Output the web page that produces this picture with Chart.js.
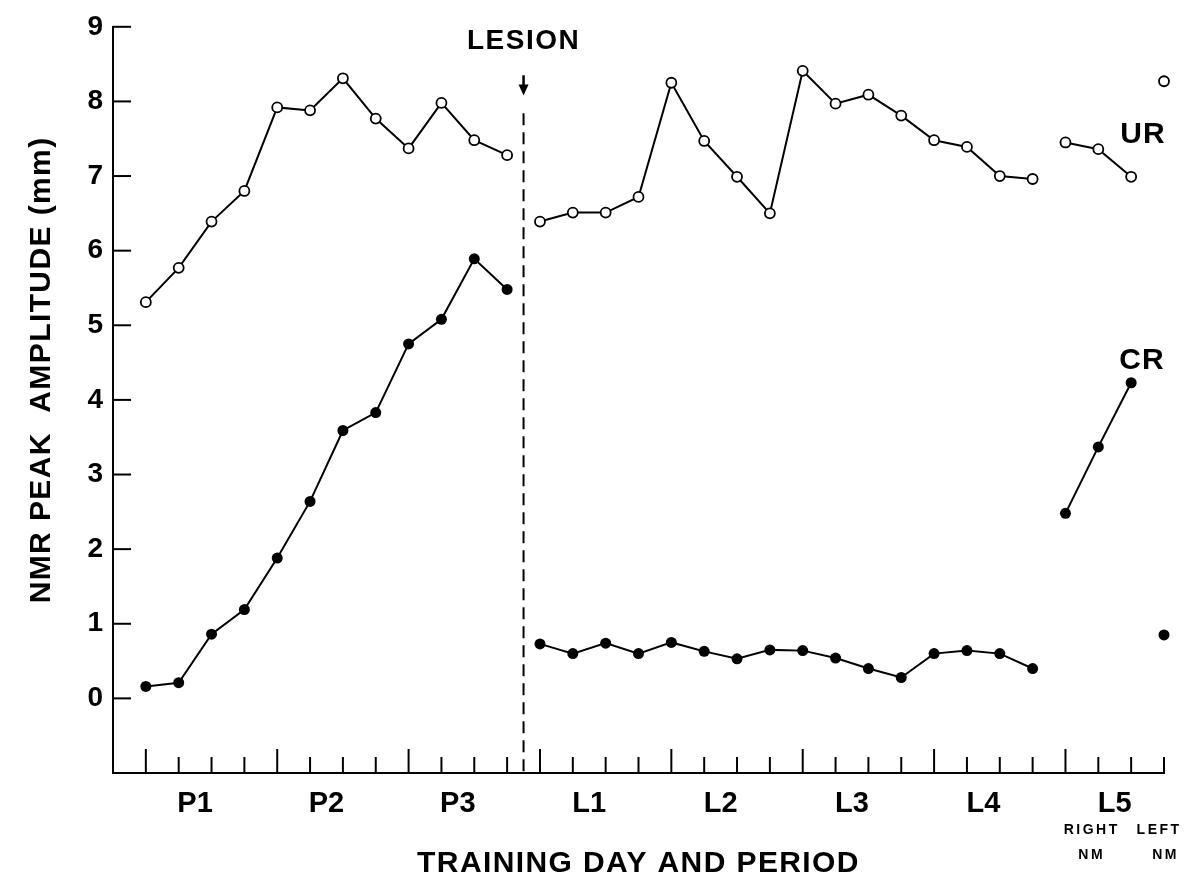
<!DOCTYPE html>
<html>
<head>
<meta charset="utf-8">
<script src="https://cdn.jsdelivr.net/npm/chart.js@4.4.0/dist/chart.umd.min.js"></script>
<style>
  html, body { margin: 0; padding: 0; background: #fff; }
</style>
</head>
<body>
<canvas id="nmr" width="1184" height="879"></canvas>
<script>
// values (NMR peak amplitude, mm)
const urPre = [5.31, 5.77, 6.39, 6.8, 7.92, 7.88, 8.31, 7.77, 7.37, 7.98, 7.48, 7.28];
const crPre = [0.16, 0.21, 0.86, 1.19, 1.88, 2.64, 3.59, 3.83, 4.75, 5.08, 5.89, 5.48];
const urLesion = [6.39, 6.51, 6.51, 6.72, 8.25, 7.47, 6.99, 6.5, 8.41, 7.97, 8.09, 7.81, 7.48, 7.39, 7.0, 6.96];
const crLesion = [0.73, 0.6, 0.74, 0.6, 0.75, 0.63, 0.53, 0.65, 0.64, 0.54, 0.4, 0.28, 0.6, 0.64, 0.6, 0.4];
const urRightNM = [7.45, 7.36, 6.99];
const crRightNM = [2.48, 3.37, 4.23];
const urLeftNM = [8.27];
const crLeftNM = [0.85];

// session index where each block starts
const preStart = 0, lesionStart = 12, rightStart = 28, leftStart = 31;

const periodLabels = ["P1", "P2", "P3", "L1", "L2", "L3", "L4", "L5"];
const periodCenters = [1.5, 5.5, 9.5, 13.5, 17.5, 21.5, 25.5, 29.5];
const dayStarts = [0, 4, 8, 12, 16, 20, 24, 28];
const sessionCount = 32;
const yTicks = [0, 1, 2, 3, 4, 5, 6, 7, 8, 9];

const FONT = "'Liberation Sans', Arial, Helvetica, sans-serif";

const toPoints = (vals, start) => vals.map((v, i) => ({ x: start + i, y: v }));

const urStyle = {
  borderColor: "#000",
  borderWidth: 2,
  pointRadius: 5,
  pointBorderWidth: 1.8,
  pointBackgroundColor: "#fff",
  pointBorderColor: "#000",
  tension: 0,
  clip: false,
};
const crStyle = {
  borderColor: "#000",
  borderWidth: 2,
  pointRadius: 5.5,
  pointBorderWidth: 0,
  pointBackgroundColor: "#000",
  pointBorderColor: "#000",
  tension: 0,
  clip: false,
};

// ve cac chi tiet phu: vach chia, duong LESION, nhan chu
const decorPlugin = {
  id: "decor",
  afterDraw(chart) {
    const { ctx, chartArea } = chart;
    const xs = chart.scales.x;
    const ys = chart.scales.y;
    ctx.save();
    ctx.strokeStyle = "#000";
    ctx.fillStyle = "#000";
    ctx.lineWidth = 2;

    // y ticks pointing inward
    yTicks.forEach((v) => {
      const py = ys.getPixelForValue(v);
      ctx.beginPath();
      ctx.moveTo(chartArea.left, py);
      ctx.lineTo(chartArea.left + 18, py);
      ctx.stroke();
    });

    // x ticks pointing up, longer at the first session of each day
    for (let i = 0; i < sessionCount; i++) {
      const px = xs.getPixelForValue(i);
      const len = dayStarts.includes(i) ? 24 : 16;
      ctx.beginPath();
      ctx.moveTo(px, chartArea.bottom);
      ctx.lineTo(px, chartArea.bottom - len);
      ctx.stroke();
    }

    // lesion marker
    const lx = xs.getPixelForValue(11.5);
    ctx.setLineDash([12, 7]);
    ctx.beginPath();
    ctx.moveTo(lx, ys.getPixelForValue(7.84));
    ctx.lineTo(lx, chartArea.bottom);
    ctx.stroke();
    ctx.setLineDash([]);

    const aTop = ys.getPixelForValue(8.35);
    const aTip = ys.getPixelForValue(8.08);
    ctx.lineWidth = 2.5;
    ctx.beginPath();
    ctx.moveTo(lx, aTop);
    ctx.lineTo(lx, aTip - 8);
    ctx.stroke();
    ctx.beginPath();
    ctx.moveTo(lx - 5, aTip - 11);
    ctx.lineTo(lx + 5, aTip - 11);
    ctx.lineTo(lx, aTip);
    ctx.closePath();
    ctx.fill();
    ctx.lineWidth = 2;

    ctx.textAlign = "center";
    ctx.textBaseline = "middle";
    ctx.font = "bold 28px " + FONT;
    ctx.letterSpacing = "1.5px";
    ctx.fillText("LESION", lx, ys.getPixelForValue(8.8));

    ctx.font = "bold 30px " + FONT;
    ctx.letterSpacing = "1px";
    ctx.fillText("UR", xs.getPixelForValue(30.36), ys.getPixelForValue(7.56));
    ctx.fillText("CR", xs.getPixelForValue(30.33), ys.getPixelForValue(4.52));

    // L5 sub labels
    ctx.font = "bold 14px " + FONT;
    ctx.letterSpacing = "2.5px";
    ctx.fillText("RIGHT", xs.getPixelForValue(28.8), chartArea.bottom + 57);
    ctx.fillText("NM", xs.getPixelForValue(28.8), chartArea.bottom + 82);
    ctx.fillText("LEFT", xs.getPixelForValue(30.85), chartArea.bottom + 57);
    ctx.fillText("NM", xs.getPixelForValue(31.05), chartArea.bottom + 82);

    // axis titles
    ctx.font = "bold 30px " + FONT;
    ctx.letterSpacing = "1.4px";
    ctx.fillText("TRAINING DAY AND PERIOD", (chartArea.left + chartArea.right) / 2, chartArea.bottom + 91);

    ctx.translate(42, (chartArea.top + chartArea.bottom) / 2 - 30);
    ctx.rotate(-Math.PI / 2);
    ctx.fillText("NMR PEAK  AMPLITUDE (mm)", 0, 0);
    ctx.restore();
  },
};

new Chart(document.getElementById("nmr").getContext("2d"), {
  type: "line",
  data: {
    datasets: [
      { label: "UR pre", data: toPoints(urPre, preStart), ...urStyle },
      { label: "UR lesion", data: toPoints(urLesion, lesionStart), ...urStyle },
      { label: "UR right NM", data: toPoints(urRightNM, rightStart), ...urStyle },
      { label: "UR left NM", data: toPoints(urLeftNM, leftStart), ...urStyle },
      { label: "CR pre", data: toPoints(crPre, preStart), ...crStyle },
      { label: "CR lesion", data: toPoints(crLesion, lesionStart), ...crStyle },
      { label: "CR right NM", data: toPoints(crRightNM, rightStart), ...crStyle },
      { label: "CR left NM", data: toPoints(crLeftNM, leftStart), ...crStyle },
    ],
  },
  options: {
    responsive: false,
    animation: false,
    events: [],
    layout: { padding: { top: 23, right: 20, left: 0, bottom: 0 } },
    plugins: {
      legend: { display: false },
      tooltip: { enabled: false },
    },
    scales: {
      x: {
        type: "linear",
        min: -1,
        max: sessionCount - 1,
        afterFit: (s) => { s.height = 106; },
        afterBuildTicks: (s) => { s.ticks = periodCenters.map((v) => ({ value: v })); },
        grid: { display: false, drawTicks: false },
        border: { display: true, color: "#000", width: 2 },
        ticks: {
          autoSkip: false,
          maxRotation: 0,
          padding: 14,
          color: "#000",
          font: { family: FONT, size: 29, weight: "bold" },
          callback: (v, i) => periodLabels[i],
        },
      },
      y: {
        min: -1,
        max: 9,
        afterFit: (s) => { s.width = 113; },
        afterBuildTicks: (s) => { s.ticks = yTicks.map((v) => ({ value: v })); },
        grid: { display: false, drawTicks: false },
        border: { display: true, color: "#000", width: 2 },
        ticks: {
          padding: 10,
          color: "#000",
          font: { family: FONT, size: 28, weight: "bold" },
          callback: (v) => String(v),
        },
      },
    },
  },
  plugins: [decorPlugin],
});
</script>
</body>
</html>
